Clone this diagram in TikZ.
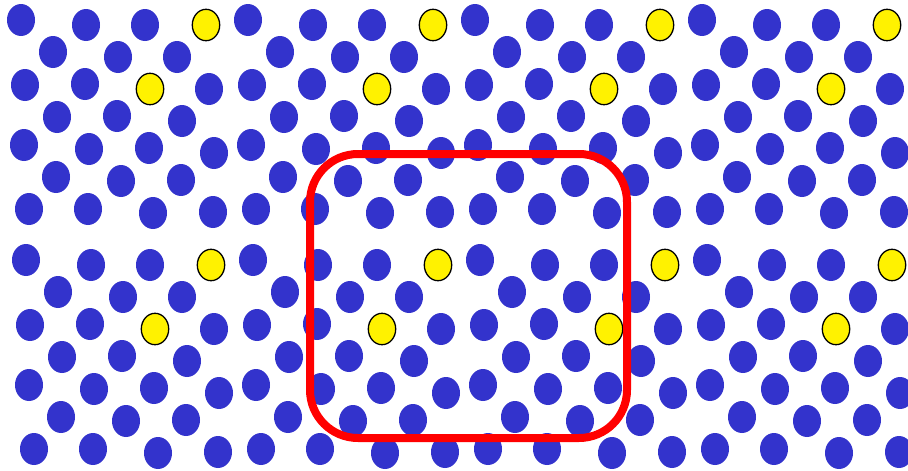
\documentclass[tikz,border=0pt]{standalone}
\definecolor{dotblue}{RGB}{51,51,204}
\tikzset{
  bluedot/.style={fill=dotblue},
  yellowdot/.style={fill=yellow,draw=black,line width=1.3pt},
  frame/.style={draw=red,line width=8pt,rounded corners=48pt}
}
\begin{document}
\begin{tikzpicture}[x=1pt,y=-1pt]
\useasboundingbox (0,0) rectangle (908,471);
\clip (0,0) rectangle (908,471);
\foreach \ox/\oy in {0/0,227/0,454/0,681/0,5/240,232/240,459/240,686/240}{
  \foreach \px/\py in {21/20,86/25,145/25,
                       53/52,118/57,177/57,
                       25/85,85/84,209/89,
                       57/117,117/116,182/121,
                       24/145,89/149,149/148,214/153,
                       56/177,121/181,181/180,
                       29/209,88/209,153/213,213/212}{
    \path[bluedot] (\ox+\px,\oy+\py) ellipse [x radius=14pt, y radius=16pt];
  }
  \foreach \px/\py in {206/25,150/89}{
    \path[yellowdot] (\ox+\px,\oy+\py) ellipse [x radius=13.7pt, y radius=15.7pt];
  }
}
\draw[frame] (310,154) rectangle (627,438);
\end{tikzpicture}
\end{document}
